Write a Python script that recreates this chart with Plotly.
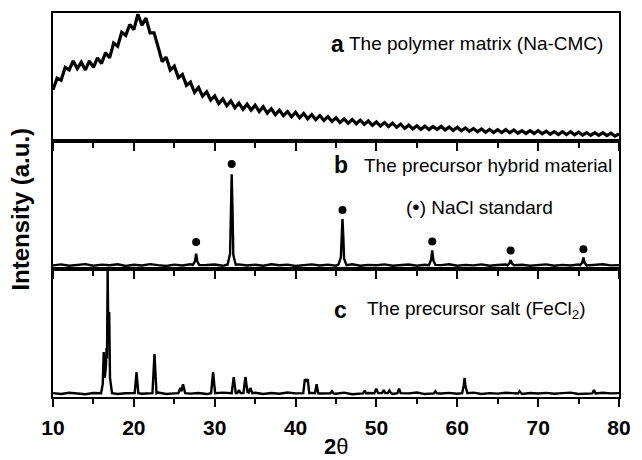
import numpy as np
import plotly.graph_objects as go
from plotly.subplots import make_subplots

# ---------------------------------------------------------------------------
# (a) Polymer matrix (Na-CMC): broad amorphous halo, step scan 10-80 deg, 0.5 deg step
cmc_start, cmc_step = 10.0, 0.5
cmc_counts = [
    400, 490, 475, 575, 555, 625, 565, 615, 555, 625,   # 10.0-14.5
    575, 650, 605, 690, 650, 765, 740, 850, 825, 910,   # 15.0-19.5
    870, 990, 905, 960, 845, 845, 735, 620, 655, 555,   # 20.0-24.5
    585, 495, 520, 435, 460, 380, 418, 350, 385, 320,   # 25.0-29.5
    352, 292, 328, 275, 312, 260, 296, 248, 287, 242,   # 30.0-34.5
    280, 230, 268, 218, 252, 206, 240, 198, 230, 190,   # 35.0-39.5
    224, 182, 215, 174, 206, 167, 199, 160, 190, 152,   # 40.0-44.5
    181, 145, 172, 139, 168, 135, 163, 130, 156, 123,   # 45.0-49.5
    149, 117, 144, 113, 140, 107, 132, 99, 124, 94,     # 50.0-54.5
    119, 91, 116, 89, 114, 90, 114, 87, 110, 83,        # 55.0-59.5
    107, 80, 102, 76, 98, 72, 94, 68, 90, 67,           # 60.0-64.5
    89, 66, 89, 64, 86, 61, 81, 59, 80, 59,             # 65.0-69.5
    81, 57, 77, 53, 73, 51, 73, 51, 72, 49,             # 70.0-74.5
    69, 46, 66, 44, 65, 44, 65, 42, 61, 38,             # 75.0-79.5
    55,                                                 # 80.0
]

# ---------------------------------------------------------------------------
# (b) Precursor hybrid material: background every 1 deg + NaCl reflections
hybrid_bg_theta = list(range(10, 81))
hybrid_bg_counts = [
    28, 36, 25, 31, 38, 26, 34, 29, 37, 24,   # 10-19
    33, 27, 38, 30, 24, 34, 28, 37, 26, 31,   # 20-29
    35, 25, 30, 36, 27, 33, 26, 37, 29, 34,   # 30-39
    24, 31, 36, 27, 34, 26, 30, 37, 25, 32,   # 40-49
    29, 36, 26, 31, 35, 25, 33, 27, 30, 37,   # 50-59
    26, 32, 28, 36, 25, 31, 35, 27, 33, 26,   # 60-69
    30, 36, 26, 32, 27, 35, 25, 31, 37, 28,   # 70-79
    30,                                       # 80
]
hybrid_peak_theta = [
    [27.3, 27.55, 27.7, 27.85, 28.1],
    [31.6, 31.9, 32.0, 32.1, 32.2, 32.3, 32.6],
    [45.3, 45.6, 45.7, 45.8, 45.9, 46.0, 46.3],
    [56.5, 56.75, 56.9, 57.05, 57.3],
    [66.2, 66.45, 66.6, 66.75, 67.0],
    [75.2, 75.45, 75.6, 75.75, 76.0],
]
hybrid_peak_counts = [
    [32, 60, 120, 58, 30],
    [35, 120, 480, 740, 470, 110, 33],
    [34, 90, 280, 390, 260, 80, 30],
    [30, 70, 145, 65, 32],
    [28, 45, 70, 44, 30],
    [30, 50, 90, 48, 28],
]
# NaCl standard reflections and the height of their marker dots
nacl_theta = [27.7, 32.1, 45.8, 56.9, 66.6, 75.6]
nacl_marker_level = [210, 820, 460, 215, 145, 155]

# ---------------------------------------------------------------------------
# (c) Precursor salt (FeCl2): background every 1 deg + sharp reflections
salt_bg_theta = list(range(10, 81))
salt_bg_counts = [
    30, 24, 33, 27, 22, 31, 26, 34, 23, 29,   # 10-19
    32, 25, 30, 35, 24, 28, 33, 26, 31, 23,   # 20-29
    29, 34, 25, 30, 27, 33, 24, 31, 26, 35,   # 30-39
    28, 23, 32, 27, 30, 25, 34, 22, 29, 31,   # 40-49
    26, 33, 24, 30, 28, 35, 23, 31, 27, 32,   # 50-59
    25, 29, 34, 24, 30, 26, 33, 28, 23, 31,   # 60-69
    27, 32, 25, 30, 34, 24, 29, 26, 33, 28,   # 70-79
    30,                                       # 80
]
salt_peak_theta = [
    [15.95, 16.15, 16.27, 16.4, 16.55, 16.62, 16.68, 16.76, 16.85, 16.95, 17.05, 17.3],
    [20.1, 20.33, 20.55],
    [22.3, 22.55, 22.8],
    [25.5, 25.75, 25.9, 26.08, 26.35],
    [29.55, 29.8, 30.05],
    [32.1, 32.35, 32.6],
    [32.8, 33.0, 33.2],
    [33.55, 33.8, 34.05, 34.2, 34.4, 34.65],
    [40.95, 41.15, 41.3, 41.5, 41.7],
    [42.4, 42.6, 42.8],
    [44.3, 44.5, 44.7],
    [48.35, 48.55, 48.75],
    [49.75, 49.97, 50.2],
    [50.7, 50.9, 51.1],
    [51.4, 51.6, 51.8],
    [52.6, 52.8, 53.0],
    [57.1, 57.3, 57.5],
    [60.6, 60.8, 60.9, 61.0, 61.25],
    [67.5, 67.7, 67.9],
    [76.7, 76.9, 77.1],
]
salt_peak_counts = [
    [30, 100, 352, 150, 240, 383, 300, 1000, 420, 664, 150, 30],
    [30, 195, 30],
    [30, 336, 30],
    [30, 70, 45, 100, 30],
    [30, 195, 30],
    [30, 156, 30],
    [30, 55, 30],
    [30, 156, 40, 35, 70, 30],
    [30, 140, 120, 140, 30],
    [30, 100, 30],
    [28, 45, 28],
    [28, 50, 28],
    [30, 65, 30],
    [30, 55, 30],
    [30, 50, 30],
    [30, 65, 30],
    [28, 45, 28],
    [30, 90, 150, 90, 30],
    [28, 45, 28],
    [28, 55, 28],
]

major_ticks = [10, 20, 30, 40, 50, 60, 70, 80]
minor_ticks = [15, 25, 35, 45, 55, 65, 75]

FONT = "Liberation Sans, Arial, sans-serif"
INK = "black"


def merge_pattern(bg_theta, bg_counts, peak_theta, peak_counts):
    """Combine background samples with peak profiles, dropping background
    samples that fall inside a peak window."""
    spans = [(min(t), max(t)) for t in peak_theta]
    pts = [(t, c) for t, c in zip(bg_theta, bg_counts)
           if not any(lo <= t <= hi for lo, hi in spans)]
    for ts, cs in zip(peak_theta, peak_counts):
        pts.extend(zip(ts, cs))
    pts.sort()
    return [p[0] for p in pts], [p[1] for p in pts]


cmc_theta = cmc_start + cmc_step * np.arange(len(cmc_counts))
hyb_x, hyb_y = merge_pattern(hybrid_bg_theta, hybrid_bg_counts,
                             hybrid_peak_theta, hybrid_peak_counts)
salt_x, salt_y = merge_pattern(salt_bg_theta, salt_bg_counts,
                               salt_peak_theta, salt_peak_counts)

fig = make_subplots(rows=3, cols=1, shared_xaxes=True, vertical_spacing=0)

fig.add_trace(go.Scatter(x=cmc_theta, y=cmc_counts, mode="lines",
                         line=dict(color=INK, width=3.2), showlegend=False),
              row=1, col=1)
fig.add_trace(go.Scatter(x=hyb_x, y=hyb_y, mode="lines",
                         line=dict(color=INK, width=2.4), showlegend=False),
              row=2, col=1)
fig.add_trace(go.Scatter(x=nacl_theta, y=nacl_marker_level, mode="markers",
                         marker=dict(color=INK, size=8), showlegend=False),
              row=2, col=1)
fig.add_trace(go.Scatter(x=salt_x, y=salt_y, mode="lines",
                         line=dict(color=INK, width=2.4), showlegend=False),
              row=3, col=1)

for r in (1, 2, 3):
    fig.update_xaxes(
        row=r, col=1, range=[10, 80], showline=True, linewidth=2.2,
        linecolor=INK, mirror=True, ticks="outside", tickvals=major_ticks,
        ticklen=8, tickwidth=2, tickcolor=INK, showgrid=False, zeroline=False,
        minor=dict(tickvals=minor_ticks, ticks="outside", ticklen=5,
                   tickwidth=2, tickcolor=INK),
        showticklabels=(r == 3), ticklabelstandoff=3,
        tickfont=dict(family=FONT, size=21, color=INK, weight="bold"),
    )
    fig.update_yaxes(
        row=r, col=1, range=[0, 1000], showline=True, linewidth=2.2,
        linecolor=INK, mirror=True, ticks="", showticklabels=False,
        showgrid=False, zeroline=False,
    )

label_font = dict(family=FONT, size=19, color=INK)
letter_font = dict(family=FONT, size=23, color=INK, weight="bold")
annotations = [
    dict(x=44.1, y=759, xref="x", yref="y", text="a", font=letter_font),
    dict(x=46.3, y=759, xref="x", yref="y",
         text="The polymer matrix (Na-CMC)", font=label_font),
    dict(x=44.5, y=811, xref="x", yref="y2", text="b", font=letter_font),
    dict(x=48.2, y=811, xref="x", yref="y2",
         text="The precursor hybrid material", font=label_font),
    dict(x=53.4, y=492, xref="x", yref="y2",
         text="(<span style='font-size:21px'>\u2022</span>) NaCl standard",
         font=label_font),
    dict(x=44.5, y=676, xref="x", yref="y3", text="c", font=letter_font),
    dict(x=48.6, y=676, xref="x", yref="y3",
         text="The precursor salt (FeCl<sub>2</sub>)", font=label_font),
]
for a in annotations:
    a.update(showarrow=False, xanchor="left", yanchor="middle")

annotations.append(dict(
    x=-0.057, y=0.49, xref="paper", yref="paper", text="Intensity (a.u.)",
    textangle=-90, showarrow=False, xanchor="center", yanchor="middle",
    font=dict(family=FONT, size=24, color=INK, weight="bold")))
annotations.append(dict(
    x=0.5, y=-0.128, xref="paper", yref="paper", text="<b>2</b>\u03b8",
    showarrow=False, xanchor="center", yanchor="middle",
    font=dict(family=FONT, size=22, color=INK)))

fig.update_layout(
    width=642, height=460,
    margin=dict(l=53, r=13, t=11, b=63),
    paper_bgcolor="white", plot_bgcolor="white",
    annotations=annotations,
    showlegend=False,
)

fig.write_html("out.html")
